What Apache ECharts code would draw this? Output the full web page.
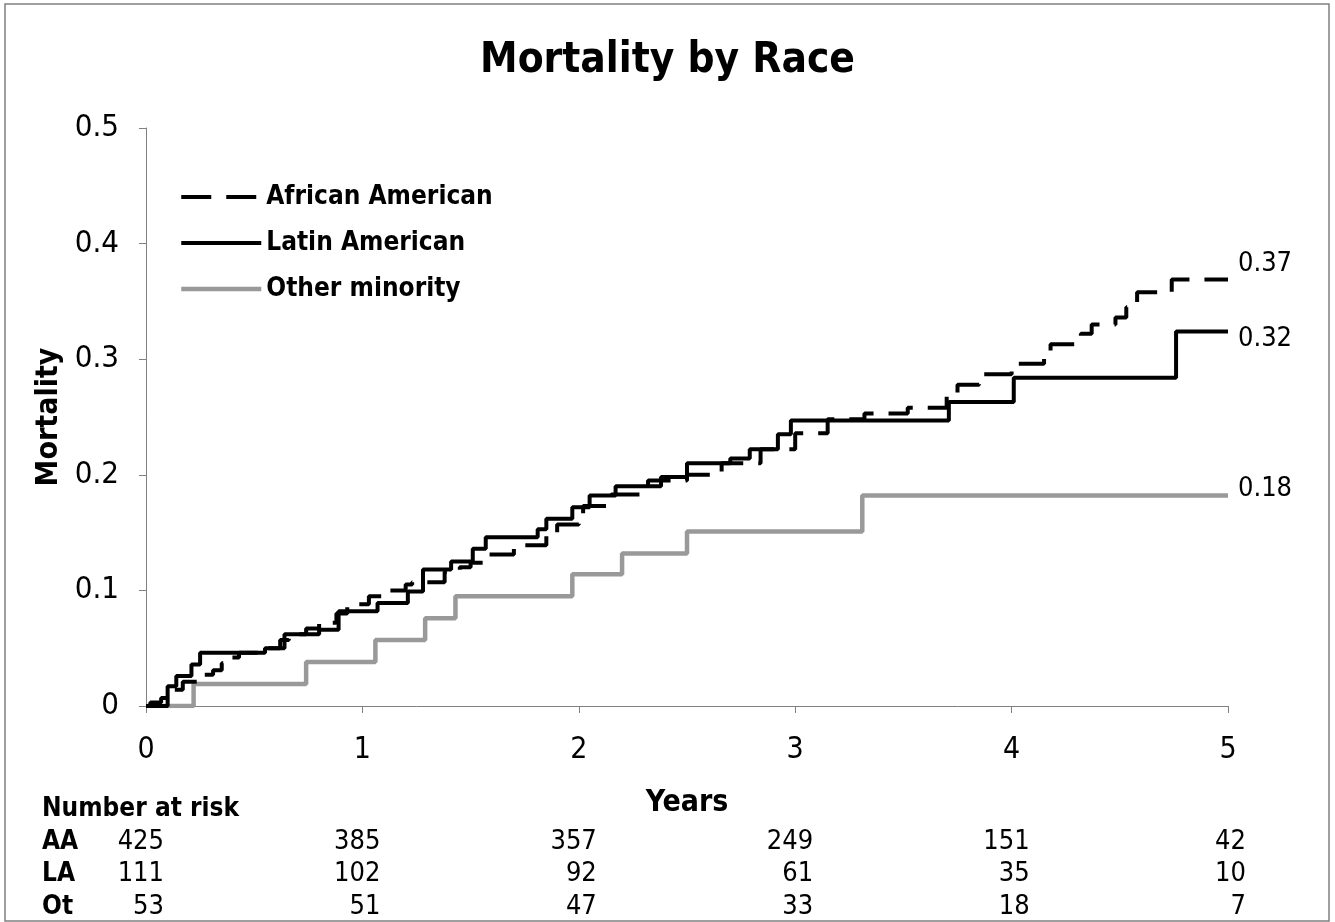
<!DOCTYPE html>
<html><head><meta charset="utf-8">
<script src="https://cdn.jsdelivr.net/npm/echarts@6/dist/echarts.min.js"></script>
<style>html,body{margin:0;padding:0;background:#fff}#c{width:1335px;height:922px}</style>
</head><body><div id="c"></div>
<script>
const chartTitle = 'Mortality by Race';
const seriesNames = ['African American', 'Latin American', 'Other minority'];

const aaTimes  = [0, 0.02, 0.07, 0.12, 0.17, 0.26, 0.31, 0.35, 0.38, 0.43, 0.56, 0.62, 0.66, 0.74, 0.80, 0.88, 0.93, 1.03, 1.10, 1.20, 1.23, 1.38, 1.45, 1.50, 1.56, 1.70, 1.85, 1.90, 2.00, 2.02, 2.15, 2.32, 2.50, 2.66, 2.84, 3.00, 3.15, 3.32, 3.52, 3.70, 3.75, 3.85, 4.00, 4.15, 4.18, 4.32, 4.37, 4.48, 4.53, 4.58, 4.74, 5.00];
const aaValues = [0, 0.003, 0.007, 0.014, 0.021, 0.027, 0.031, 0.037, 0.042, 0.046, 0.050, 0.057, 0.062, 0.067, 0.072, 0.080, 0.088, 0.095, 0.100, 0.105, 0.107, 0.116, 0.120, 0.124, 0.131, 0.139, 0.150, 0.157, 0.165, 0.173, 0.183, 0.195, 0.200, 0.210, 0.222, 0.236, 0.248, 0.253, 0.258, 0.268, 0.278, 0.287, 0.296, 0.305, 0.313, 0.322, 0.330, 0.336, 0.345, 0.358, 0.369, 0.369];

const laTimes  = [0, 0.10, 0.14, 0.21, 0.25, 0.55, 0.64, 0.80, 0.89, 1.07, 1.21, 1.28, 1.41, 1.51, 1.57, 1.81, 1.85, 1.97, 2.05, 2.17, 2.38, 2.50, 2.70, 2.79, 2.92, 2.98, 3.71, 4.01, 4.76, 5.00];
const laValues = [0, 0.017, 0.026, 0.036, 0.046, 0.050, 0.062, 0.066, 0.082, 0.089, 0.099, 0.118, 0.125, 0.136, 0.146, 0.153, 0.162, 0.172, 0.182, 0.190, 0.198, 0.210, 0.214, 0.222, 0.235, 0.247, 0.263, 0.284, 0.324, 0.324];

const otTimes  = [0, 0.22, 0.74, 1.06, 1.29, 1.43, 1.97, 2.20, 2.50, 3.31, 5.00];
const otValues = [0, 0.019, 0.038, 0.057, 0.076, 0.095, 0.114, 0.132, 0.151, 0.182, 0.182];

const riskHeader = 'Number at risk';
const riskRowLabels = ['AA', 'LA', 'Ot'];
const riskYears = [0, 1, 2, 3, 4, 5];
const riskAA = [425, 385, 357, 249, 151, 42];
const riskLA = [111, 102, 92, 61, 35, 10];
const riskOt = [53, 51, 47, 33, 18, 7];
const xAxisName = 'Years';
const yAxisName = 'Mortality';

const FF = '"DejaVu Sans Condensed","DejaVu Sans",sans-serif';
const zip = (a, b) => a.map((t, i) => [t, b[i]]);

const chart = echarts.init(document.getElementById('c'), null, {renderer: 'canvas'});

const endLabelBase = {show: true, fontFamily: FF, fontSize: 27, color: '#000', distance: 10,
  formatter: p => p.value[1].toFixed(2)};

const lineStyles = [
  {color: '#000', width: 4, type: [30, 15]},
  {color: '#000', width: 4, type: 'solid'},
  {color: '#999999', width: 4.5, type: 'solid'}
];

chart.setOption({
  animation: false,
  backgroundColor: '#fff',
  title: {text: chartTitle, left: 'center', top: 35,
    textStyle: {fontFamily: FF, fontSize: 42, fontWeight: 'bold', color: '#000'}},
  legend: {orient: 'vertical', left: 179, top: 184, padding: 0, itemWidth: 80, itemHeight: 22, itemGap: 20,
    textStyle: {fontFamily: FF, fontSize: 26, fontWeight: 'bold', color: '#000'},
    data: seriesNames.map((n, i) => ({name: n,
      lineStyle: Object.assign({}, lineStyles[i]),
      itemStyle: {opacity: 0, color: 'rgba(0,0,0,0)', borderWidth: 0}}))},
  grid: {left: 146, right: 107, top: 128, bottom: 216, containLabel: false},
  xAxis: {type: 'value', min: 0, max: 5, interval: 1, name: xAxisName, nameLocation: 'middle', nameGap: 82,
      nameTextStyle: {fontFamily: FF, fontSize: 30, fontWeight: 'bold', color: '#000'},
      axisLine: {show: true, onZero: false, lineStyle: {color: '#808080', width: 1}},
      axisTick: {show: true, inside: false, length: 7, lineStyle: {color: '#808080'}},
      splitLine: {show: false},
      axisLabel: {margin: 29, fontFamily: FF, fontSize: 30, color: '#000', lineHeight: 30}},
  yAxis: {type: 'value', min: 0, max: 0.5, interval: 0.1, name: yAxisName, nameLocation: 'middle', nameGap: 80,
    nameRotate: 90,
    nameTextStyle: {fontFamily: FF, fontSize: 30, fontWeight: 'bold', color: '#000'},
    axisLine: {show: true, lineStyle: {color: '#808080', width: 1}},
    axisTick: {show: true, length: 7, lineStyle: {color: '#808080'}},
    splitLine: {show: false},
    axisLabel: {margin: 27, fontFamily: FF, fontSize: 31, color: '#000',
      formatter: v => v === 0 ? '0' : v.toFixed(1)}},
  series: [
    {name: seriesNames[0], type: 'line', step: 'end', symbol: 'none', z: 3,
      data: zip(aaTimes, aaValues),
      lineStyle: lineStyles[0], itemStyle: {color: '#000'},
      endLabel: Object.assign({}, endLabelBase, {offset: [0, -15]})},
    {name: seriesNames[1], type: 'line', step: 'end', symbol: 'none', z: 4,
      data: zip(laTimes, laValues),
      lineStyle: lineStyles[1], itemStyle: {color: '#000'},
      endLabel: Object.assign({}, endLabelBase, {offset: [0, 8]})},
    {name: seriesNames[2], type: 'line', step: 'end', symbol: 'none', z: 2,
      data: zip(otTimes, otValues),
      lineStyle: lineStyles[2], itemStyle: {color: '#999999'},
      endLabel: Object.assign({}, endLabelBase, {offset: [0, -7]})}
  ]
});

// Number-at-risk table: columns placed through the x axis scale
const rowCenters = [842, 874, 907];
const riskRows = [riskAA, riskLA, riskOt];
const graphics = [
  {type: 'rect', shape: {x: 5, y: 4, width: 1324, height: 917}, silent: true,
    style: {fill: 'none', stroke: '#808080', lineWidth: 1.5}},
  {type: 'text', x: 42, y: 809, silent: true,
    style: {text: riskHeader, font: 'bold 26px ' + FF, fill: '#000', textVerticalAlign: 'middle'}}
];
riskRows.forEach((row, r) => {
  graphics.push({type: 'text', x: 42, y: rowCenters[r], silent: true,
    style: {text: riskRowLabels[r], font: 'bold 26px ' + FF, fill: '#000', textVerticalAlign: 'middle'}});
  row.forEach((n, c) => {
    const px = chart.convertToPixel({xAxisIndex: 0}, riskYears[c]);
    graphics.push({type: 'text', x: px + 18, y: rowCenters[r], silent: true,
      style: {text: String(n), font: '27px ' + FF, fill: '#000', textAlign: 'right', textVerticalAlign: 'middle'}});
  });
});
chart.setOption({graphic: graphics});
</script></body></html>
